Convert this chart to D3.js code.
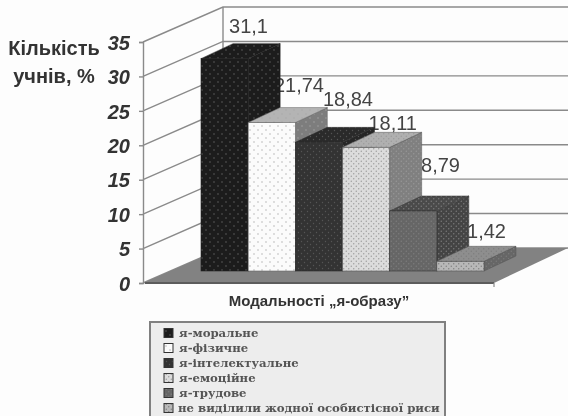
<!DOCTYPE html>
<html lang="uk">
<head>
<meta charset="UTF-8">
<title>Модальності я-образу</title>
<script src="https://d3js.org/d3.v7.min.js"></script>
<style>
  body { margin: 0; background: #fdfdfd; }
  svg { display: block; filter: blur(0.35px); }
  .tick-label { font: italic bold 20px "Liberation Sans", Arial, sans-serif; fill: #333; }
  .axis-title { font: bold 20px "Liberation Sans", Arial, sans-serif; fill: #333; }
  .cat-title { font: bold 15px "Liberation Sans", Arial, sans-serif; fill: #333; }
  .val-label { font: 20px "Liberation Sans", Arial, sans-serif; fill: #444; }
  .legend-text { font: bold 11.7px "DejaVu Serif", serif; fill: #555; }
</style>
</head>
<body>
<svg id="chart" width="568" height="416"></svg>
<script>
const categories = ["я-моральне", "я-фізичне", "я-інтелектуальне", "я-емоційне", "я-трудове", "не виділили жодної особистісної риси"];
const values = [31.1, 21.74, 18.84, 18.11, 8.79, 1.42];
const valueLabels = ["31,1", "21,74", "18,84", "18,11", "8,79", "1,42"];
const tickValues = [0, 5, 10, 15, 20, 25, 30, 35];

// fill looks: front, top, side, dot colour, dot step, outline
const looks = [
  { front: "#1c1c1c", top: "#1c1c1c", side: "#1c1c1c", dot: "#6a6a6a", step: 4, edge: "#222" },
  { front: "#fbfbfb", top: "#b4b4b4", side: "#7d7d7d", dot: "#a8a8a8", step: 4, edge: "#666" },
  { front: "#333333", top: "#2a2a2a", side: "#262626", dot: "#555555", step: 3, edge: "#2a2a2a" },
  { front: "#dcdcdc", top: "#b0b0b0", side: "#808080", dot: "#999999", step: 2.5, edge: "#555" },
  { front: "#666666", top: "#4a4a4a", side: "#444444", dot: "#7e7e7e", step: 2.5, edge: "#333" },
  { front: "#b8b8b8", top: "#8e8e8e", side: "#666666", dot: "#7c7c7c", step: 2.5, edge: "#555" }
];

const svg = d3.select("#chart");
const defs = svg.append("defs");

function addPattern(id, bg, dot, step) {
  const p = defs.append("pattern")
    .attr("id", id)
    .attr("width", step * 2).attr("height", step * 2)
    .attr("patternUnits", "userSpaceOnUse");
  p.append("rect").attr("width", step * 2).attr("height", step * 2).attr("fill", bg);
  p.append("circle").attr("cx", step / 2).attr("cy", step / 2).attr("r", 0.7).attr("fill", dot);
  p.append("circle").attr("cx", step * 1.5).attr("cy", step * 1.5).attr("r", 0.7).attr("fill", dot);
}
looks.forEach((l, i) => {
  addPattern("front" + i, l.front, l.dot, l.step);
  addPattern("top" + i, l.top, l.dot, l.step);
  addPattern("side" + i, l.side, l.dot, l.step);
});

// front axis, back wall is the same scale pushed back
const y = d3.scaleLinear().domain([0, 35]).range([283, 42]);
const wallDx = 80, wallDy = -35, wallRight = 568, floorRight = 494;

// bars stand in the middle of the floor
const x = d3.scaleBand().domain(categories).range([201, 484]).padding(0);
const yBar = d3.scaleLinear().domain([0, 35]).range([271, 32]);
const depthX = 32, depthY = -15;

const lineColor = "#8a8a8a";

// wall + gridlines
const grid = svg.append("g").attr("stroke", lineColor).attr("stroke-width", 1.4).attr("fill", "none");
tickValues.forEach(t => {
  grid.append("path").attr("d", d3.line()([
    [143, y(t)],
    [143 + wallDx, y(t) + wallDy],
    [wallRight, y(t) + wallDy]
  ]));
});
grid.append("line")
  .attr("x1", 143 + wallDx).attr("x2", 143 + wallDx)
  .attr("y1", y(35) + wallDy).attr("y2", y(0) + wallDy);

// floor
svg.append("path")
  .attr("d", d3.line()([
    [143, y(0)],
    [143 + wallDx, y(0) + wallDy],
    [wallRight, y(0) + wallDy],
    [floorRight, y(0)]
  ]) + "Z")
  .attr("fill", "#828282");
svg.append("line")
  .attr("x1", 145).attr("x2", floorRight)
  .attr("y1", y(0)).attr("y2", y(0))
  .attr("stroke", "#5c5c5c").attr("stroke-width", 2);
svg.append("line")
  .attr("x1", floorRight).attr("x2", floorRight)
  .attr("y1", y(0)).attr("y2", y(0) + 4)
  .attr("stroke", lineColor).attr("stroke-width", 1.2);

// y axis
const axis = svg.append("g")
  .attr("transform", "translate(143,0)")
  .call(d3.axisLeft(y).tickValues(tickValues).tickSize(4).tickPadding(9));
axis.selectAll("path, line").attr("stroke", lineColor).attr("stroke-width", 1.4);
axis.selectAll("text").attr("class", "tick-label").attr("dy", "0.36em");

// value labels sit behind the bars, so bars clip some of them
const labelEndX = [268, 324, 373, 417, 460, 506];
const labelBaseY = [33, 92, 106, 130, 172, 238];
svg.append("g").selectAll("text")
  .data(valueLabels)
  .join("text")
  .attr("class", "val-label")
  .attr("text-anchor", "end")
  .attr("x", (d, i) => labelEndX[i])
  .attr("y", (d, i) => labelBaseY[i])
  .text(d => d);

// bars, left to right
const bars = svg.append("g").selectAll("g")
  .data(values)
  .join("g");
const bw = x.bandwidth();
bars.each(function (v, i) {
  const g = d3.select(this);
  const x0 = x(categories[i]), x1 = x0 + bw, top = yBar(v), base = yBar(0);
  const edge = looks[i].edge;
  g.append("path")
    .attr("d", d3.line()([[x1, base], [x1 + depthX, base + depthY], [x1 + depthX, top + depthY], [x1, top]]) + "Z")
    .attr("fill", `url(#side${i})`).attr("stroke", edge).attr("stroke-width", 0.5);
  g.append("path")
    .attr("d", d3.line()([[x0, top], [x0 + depthX, top + depthY], [x1 + depthX, top + depthY], [x1, top]]) + "Z")
    .attr("fill", `url(#top${i})`).attr("stroke", edge).attr("stroke-width", 0.5);
  g.append("rect")
    .attr("x", x0).attr("y", top).attr("width", bw).attr("height", base - top)
    .attr("fill", `url(#front${i})`).attr("stroke", edge).attr("stroke-width", 0.6);
});

// axis titles
svg.append("text").attr("class", "axis-title").attr("text-anchor", "middle").attr("x", 54).attr("y", 55).text("Кількість");
svg.append("text").attr("class", "axis-title").attr("text-anchor", "middle").attr("x", 54).attr("y", 83).text("учнів, %");
svg.append("text").attr("class", "cat-title").attr("text-anchor", "middle").attr("x", 319).attr("y", 306).text("Модальності „я-образу”");

// legend
svg.append("rect")
  .attr("x", 150).attr("y", 322).attr("width", 295).attr("height", 100)
  .attr("fill", "#ededed").attr("stroke", "#808080").attr("stroke-width", 2);
const rowY = d3.scalePoint().domain(categories).range([333, 408]);
const rows = svg.append("g").selectAll("g")
  .data(categories)
  .join("g")
  .attr("transform", d => `translate(0,${rowY(d)})`);
rows.append("rect")
  .attr("x", 164).attr("y", -4.5).attr("width", 9).attr("height", 9)
  .attr("fill", (d, i) => `url(#front${i})`)
  .attr("stroke", "#333").attr("stroke-width", 1);
rows.append("text")
  .attr("class", "legend-text")
  .attr("x", (d, i) => i === 5 ? 178 : 179)
  .attr("y", 4)
  .text(d => d);
</script>
</body>
</html>
